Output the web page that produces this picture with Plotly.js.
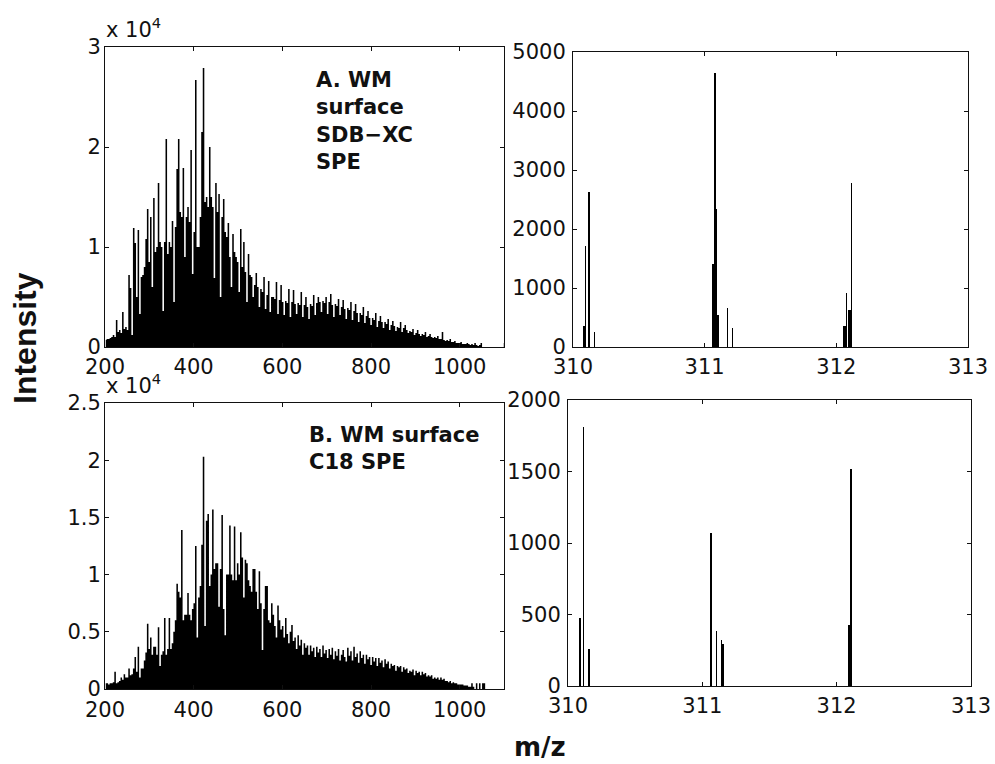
<!DOCTYPE html>
<html>
<head>
<meta charset="utf-8">
<script src="https://cdn.plot.ly/plotly-3.0.1.min.js"></script>
<style>html,body{margin:0;padding:0;background:#fff}#chart{width:995px;height:764px}</style>
</head>
<body>
<div id="chart"></div>
<script>
// ---- Data ----
// Broad-band spectra: intensity (x 10^4) on an m/z grid that starts at 200 with 3.5 Da columns
const gridStartMz = 200;
const gridStepMz = 3.5;
const intensA = [
0.07,0.08,0.08,0.09, 0.10,0.12,0.10,0.27, 0.15,0.17,0.14,0.35, 0.18,0.20,0.17,0.72,
0.59,0.12,1.19,1.04, 0.50,1.17,0.33,0.70, 0.72,0.80,1.08,1.38, 0.85,1.30,0.60,1.49,
0.95,1.00,1.64,1.05, 1.00,0.36,1.05,2.08, 0.93,1.05,1.00,1.26, 0.45,1.20,1.78,2.08,
1.35,1.30,1.79,0.90, 1.30,1.40,1.25,1.97, 0.73,1.15,2.67,1.00, 1.00,1.30,2.15,2.79,
1.45,1.50,1.40,2.00, 1.50,1.40,0.69,1.64, 1.35,1.53,0.50,1.30, 1.48,1.15,1.10,1.24,
0.90,0.60,1.13,0.95, 0.90,0.85,0.55,1.18, 0.80,1.05,0.75,0.45, 0.93,0.72,0.70,0.50,
0.62,0.74,0.60,0.40, 0.58,0.55,0.70,0.38, 0.52,0.66,0.35,0.50, 0.50,0.48,0.65,0.33,
0.47,0.62,0.45,0.32, 0.46,0.44,0.58,0.30, 0.45,0.57,0.43,0.33, 0.44,0.42,0.55,0.30,
0.42,0.50,0.40,0.28, 0.43,0.41,0.52,0.32, 0.44,0.50,0.45,0.35, 0.46,0.44,0.50,0.33,
0.45,0.53,0.42,0.30, 0.43,0.41,0.48,0.32, 0.40,0.47,0.38,0.28, 0.39,0.37,0.45,0.27,
0.36,0.43,0.34,0.25, 0.34,0.32,0.40,0.24, 0.31,0.36,0.29,0.22, 0.29,0.27,0.34,0.20,
0.26,0.31,0.25,0.19, 0.25,0.23,0.28,0.17, 0.22,0.26,0.21,0.16, 0.20,0.19,0.25,0.15,
0.19,0.22,0.17,0.14, 0.16,0.15,0.18,0.12, 0.14,0.17,0.13,0.11, 0.13,0.12,0.15,0.10,
0.11,0.13,0.10,0.09, 0.10,0.09,0.11,0.08, 0.08,0.15,0.07,0.06, 0.07,0.06,0.08,0.05,
0.05,0.06,0.04,0.04, 0.04,0.05,0.03,0.03, 0.03,0.04,0.03,0.02, 0.03,0.02,0.04,0.02,
0.01,0.02,0.04,0.00, 0.00,0.00,0.00,0.00, 0.00,0.00,0.00,0.00, 0.00,0.00,0.00,0.00,
0.00,0.04,0.00,0.00
];
const intensB = [
0.05,0.05,0.04,0.05, 0.05,0.06,0.15,0.05, 0.06,0.07,0.10,0.08, 0.13,0.10,0.10,0.18,
0.12,0.13,0.18,0.28, 0.15,0.37,0.10,0.18, 0.18,0.25,0.32,0.57, 0.35,0.45,0.30,0.37,
0.37,0.30,0.54,0.20, 0.30,0.33,0.62,0.30, 0.35,0.62,0.35,0.40, 0.50,0.60,0.92,0.85,
0.80,1.39,0.60,0.65, 0.65,0.84,0.65,0.60, 0.70,0.75,1.25,0.45, 0.80,0.90,1.26,2.03,
0.55,1.47,1.53,0.90, 1.00,1.57,1.05,1.10, 1.10,0.72,1.05,1.52, 0.70,0.47,1.00,1.00,
1.43,1.00,0.95,1.42, 0.95,1.10,1.00,1.37, 1.15,0.80,1.13,1.10, 0.95,0.90,0.85,1.05,
1.05,0.85,0.70,1.03, 0.75,0.34,0.70,0.90, 0.90,0.60,0.58,0.75, 0.65,0.55,0.45,0.73,
0.60,0.52,0.55,0.45, 0.62,0.48,0.40,0.50, 0.56,0.42,0.45,0.35, 0.47,0.38,0.43,0.30,
0.40,0.36,0.38,0.30, 0.38,0.33,0.36,0.28, 0.37,0.32,0.35,0.28, 0.38,0.31,0.34,0.27,
0.35,0.30,0.36,0.26, 0.33,0.29,0.35,0.25, 0.30,0.34,0.28,0.24, 0.36,0.29,0.33,0.25,
0.37,0.28,0.31,0.23, 0.33,0.27,0.30,0.22, 0.30,0.26,0.28,0.21, 0.28,0.24,0.27,0.20,
0.27,0.23,0.25,0.19, 0.26,0.22,0.24,0.18, 0.22,0.20,0.21,0.16, 0.20,0.19,0.20,0.15,
0.19,0.17,0.18,0.14, 0.16,0.15,0.17,0.12, 0.16,0.14,0.15,0.12, 0.15,0.13,0.14,0.11,
0.12,0.11,0.12,0.09, 0.10,0.09,0.10,0.08, 0.10,0.08,0.09,0.07, 0.07,0.06,0.07,0.05,
0.06,0.05,0.05,0.04, 0.04,0.04,0.04,0.03, 0.03,0.03,0.02,0.02, 0.05,0.02,0.00,0.05,
0.00,0.05,0.00,0.05, 0.05,0.00,0.00,0.00, 0.00,0.00,0.00,0.00, 0.00,0.00,0.00,0.00,
0.00,0.00,0.00,0.00
];
// Zoomed region m/z 310-313
const zoomMzA = [310.081,310.085,310.096,310.122,310.165,311.060,311.066,311.072,311.078,311.085,311.091,311.098,311.104,311.172,311.212,312.056,312.062,312.067,312.075,312.097,312.103,312.113];
const zoomIntA = [350,350,1710,2630,260,1410,1410,1410,4640,2340,2340,540,540,660,320,350,350,350,910,630,630,2780];
const zoomMzB = [310.089,310.117,310.156,311.065,311.105,311.142,311.151,311.157,312.088,312.094,312.100,312.106];
const zoomIntB = [478,1813,261,1069,385,324,296,296,425,425,425,1517];

// Axis tick values
const wideTicks = [200,400,600,800,1000];
const narrowTicks = [310,311,312,313];
const yTicksA = [0,1,2,3];
const yTicksB = [0,0.5,1,1.5,2,2.5];
const yTicksA2 = [0,1000,2000,3000,4000,5000];
const yTicksB2 = [0,500,1000,1500,2000];

// ---- Build traces ----
function gridX(vals){ return vals.map((v,k)=> gridStartMz + gridStepMz/2 + gridStepMz*k); }
function spectrum(vals, xa, ya){
  return {type:'scatter', mode:'lines', x:gridX(vals), y:vals, xaxis:xa, yaxis:ya,
    line:{shape:'hvh', width:0, color:'black'}, fill:'tozeroy', fillcolor:'black',
    hoverinfo:'x+y', showlegend:false};
}
function sticks(xs, ys, xa, ya){
  return {type:'bar', x:xs, y:ys, xaxis:xa, yaxis:ya, width:0.01,
    marker:{color:'black', line:{width:0}}, showlegend:false};
}
const data = [
  spectrum(intensA,'x','y'),
  sticks(zoomMzA, zoomIntA,'x2','y2'),
  spectrum(intensB,'x3','y3'),
  sticks(zoomMzB, zoomIntB,'x4','y4')
];

const W=995, H=764;
const fx = p => p/W;
const fy = p => 1 - p/H;
const tickFont = {family:'DejaVu Sans', size:21, color:'#111'};
function ax(extra){
  return Object.assign({showline:true, linecolor:'#111', linewidth:1, mirror:'ticks',
    ticks:'inside', ticklen:4, tickwidth:1, tickcolor:'#111', showgrid:false, zeroline:false,
    tickfont:tickFont, fixedrange:true, tickmode:'array'}, extra);
}
const layout = {
  width:W, height:H, margin:{l:0,r:0,t:0,b:0},
  paper_bgcolor:'white', plot_bgcolor:'white', showlegend:false, bargap:0,
  font:{family:'DejaVu Sans', color:'#111'},
  xaxis: ax({domain:[fx(105),fx(504)], range:[200,1100], tickvals:wideTicks, anchor:'y', ticklabelstandoff:1}),
  yaxis: ax({domain:[fy(347),fy(47)], range:[0,3], tickvals:yTicksA, anchor:'x', ticklabelstandoff:-1}),
  xaxis2: ax({domain:[fx(573),fx(968)], range:[310,313], tickvals:narrowTicks, anchor:'y2', ticklabelstandoff:1}),
  yaxis2: ax({domain:[fy(347),fy(52)], range:[0,5000], tickvals:yTicksA2, anchor:'x2', ticklabelstandoff:2}),
  xaxis3: ax({domain:[fx(105),fx(504)], range:[200,1100], tickvals:wideTicks, anchor:'y3', ticklabelstandoff:2}),
  yaxis3: ax({domain:[fy(689),fy(403)], range:[0,2.5], tickvals:yTicksB, anchor:'x3', ticklabelstandoff:-1}),
  xaxis4: ax({domain:[fx(568),fx(971)], range:[310,313], tickvals:narrowTicks, anchor:'y4', ticklabelstandoff:1}),
  yaxis4: ax({domain:[fy(686),fy(400)], range:[0,2000], tickvals:yTicksB2, anchor:'x4', ticklabelstandoff:2}),
  annotations:[
    {xref:'paper', yref:'paper', x:fx(314), y:fy(66), xanchor:'left', yanchor:'top', align:'left', showarrow:false,
     text:'<b>A. WM<br>surface<br>SDB\u2212XC<br>SPE</b>', font:{family:'DejaVu Sans', size:21, color:'#111'}},
    {xref:'paper', yref:'paper', x:fx(307), y:fy(421), xanchor:'left', yanchor:'top', align:'left', showarrow:false,
     text:'<b>B. WM surface<br>C18 SPE</b>', font:{family:'DejaVu Sans', size:21, color:'#111'}},
    {xref:'paper', yref:'paper', x:fx(104), y:fy(12), xanchor:'left', yanchor:'top', showarrow:false,
     text:'x 10<sup>4</sup>', font:{family:'DejaVu Sans', size:21, color:'#111'}},
    {xref:'paper', yref:'paper', x:fx(104), y:fy(368), xanchor:'left', yanchor:'top', showarrow:false,
     text:'x 10<sup>4</sup>', font:{family:'DejaVu Sans', size:21, color:'#111'}},
    {xref:'paper', yref:'paper', x:fx(25), y:fy(338), xanchor:'center', yanchor:'middle', textangle:-90, showarrow:false,
     text:'<b>Intensity</b>', font:{family:'Liberation Sans', size:32, color:'#111'}},
    {xref:'paper', yref:'paper', x:fx(540), y:fy(747), xanchor:'center', yanchor:'middle', showarrow:false,
     text:'<b>m/z</b>', font:{family:'DejaVu Sans', size:26, color:'#111'}}
  ]
};
Plotly.newPlot('chart', data, layout, {staticPlot:true, displayModeBar:false});
</script>
</body>
</html>
